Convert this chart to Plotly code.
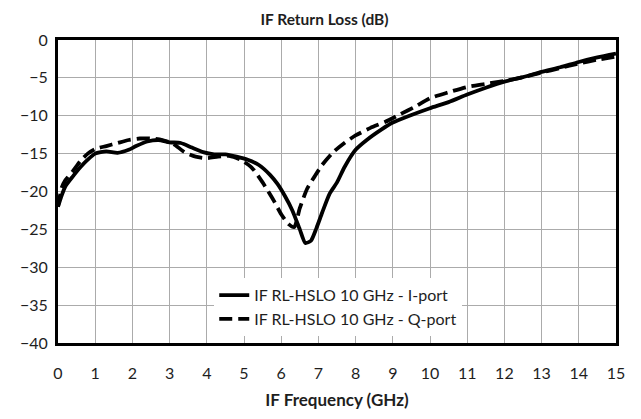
import plotly.graph_objects as go

x_i = [0, 0.1, 0.2, 0.4, 0.6, 0.8, 1.0, 1.3, 1.6, 1.9, 2.1, 2.4, 2.7, 3.0, 3.3, 3.6, 3.9, 4.2, 4.5, 4.8,
       5.1, 5.4, 5.7, 5.9, 6.1, 6.3, 6.5, 6.65, 6.8, 6.95, 7.1, 7.3, 7.5, 7.7, 8.0, 8.3, 8.7, 9.0, 9.5,
       10, 10.5, 11, 11.5, 12, 12.5, 13, 13.5, 14, 14.5, 15]
y_i = [-22, -20.5, -19.3, -18, -16.8, -15.8, -15.0, -14.7, -14.9, -14.5, -14.0, -13.4, -13.2, -13.5, -13.6,
       -14.2, -14.8, -15.1, -15.1, -15.4, -15.8, -16.5, -17.8, -19, -20.6, -22.5, -25, -26.8, -26.5, -24.8,
       -22.8, -20.3, -18.8, -16.8, -14.5, -13.2, -11.8, -10.9, -9.9, -9.0, -8.2, -7.2, -6.3, -5.5, -4.9,
       -4.2, -3.6, -2.9, -2.3, -1.8]

x_q = [0, 0.1, 0.2, 0.4, 0.6, 0.8, 1.0, 1.3, 1.6, 1.9, 2.2, 2.5, 2.8, 3.1, 3.4, 3.7, 4.0, 4.3, 4.6, 4.9,
       5.2, 5.5, 5.8, 6.0, 6.2, 6.35, 6.5, 6.7, 6.9, 7.1, 7.4, 7.7, 8.0, 8.4, 8.8, 9.2, 9.6, 10, 10.5, 11,
       11.5, 12, 12.5, 13, 13.5, 14, 14.5, 15]
y_q = [-22, -19.5, -18.5, -17.3, -16.0, -15.0, -14.4, -14.0, -13.6, -13.2, -13.0, -13.0, -13.2, -13.7,
       -14.8, -15.4, -15.6, -15.4, -15.3, -15.8, -16.8, -18.8, -21.2, -23.0, -24.3, -24.7, -22.2, -19.6,
       -18.0, -16.5, -14.8, -13.6, -12.6, -11.6, -10.8, -9.8, -8.8, -7.7, -6.9, -6.2, -5.8, -5.4, -4.9,
       -4.3, -3.7, -3.1, -2.6, -2.2]

x_ticks = list(range(0, 16))
y_ticks = [0, -5, -10, -15, -20, -25, -30, -35, -40]

name_i = "IF RL-HSLO 10 GHz - I-port"
name_q = "IF RL-HSLO 10 GHz - Q-port"

FONT = "Lato, Open Sans, sans-serif"
TXT = "#1e1e1e"

fig = go.Figure()
fig.add_trace(go.Scatter(x=x_i, y=y_i, mode="lines", name=name_i,
                         line=dict(color="black", width=3.8, shape="spline", smoothing=0.6)))
fig.add_trace(go.Scatter(x=x_q, y=y_q, mode="lines", name=name_q,
                         line=dict(color="black", width=3.8, dash="13px,6px", shape="spline", smoothing=0.6)))

fig.update_layout(
    width=633, height=411,
    margin=dict(l=50, r=25, t=32, b=71),
    paper_bgcolor="white", plot_bgcolor="white",
    font=dict(family=FONT, size=16, color=TXT),
    title=dict(text="<b>IF Return Loss (dB)</b>", x=0.5, xanchor="center", y=0.972, yanchor="middle",
               font=dict(family=FONT, size=15.5, color=TXT)),
    showlegend=True,
    legend=dict(x=0.28, y=0.214, xanchor="left", yanchor="top", bgcolor="white",
                font=dict(family=FONT, size=16, color=TXT), tracegroupgap=0),
    xaxis=dict(range=[0, 15], tickvals=x_ticks, showgrid=True, gridcolor="#ababab", gridwidth=1,
               showline=True, linecolor="black", linewidth=3, mirror=True, zeroline=False,
               ticks="", ticklabelstandoff=14,
               title=dict(text="<b>IF Frequency (GHz)</b>", font=dict(family=FONT, size=17, color=TXT),
                          standoff=13)),
    yaxis=dict(range=[-40, 0], tickvals=y_ticks, showgrid=True, gridcolor="#ababab", gridwidth=1,
               showline=True, linecolor="black", linewidth=3, mirror=True, zeroline=False,
               ticks="", ticklabelstandoff=4),
)

fig.write_html("out.html")
